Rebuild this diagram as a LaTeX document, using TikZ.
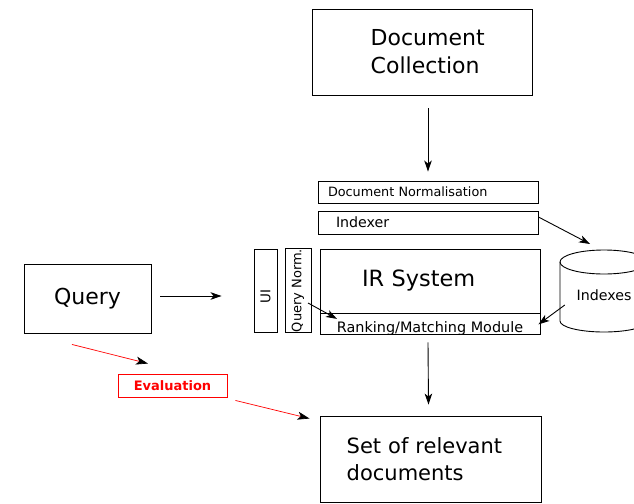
\documentclass[tikz,border=0pt]{standalone}
\usepackage{fontspec}
\setmainfont{DejaVu Sans}
\usepackage{graphicx}
\usepackage{tikz}
\usetikzlibrary{arrows.meta, positioning}

\begin{document}
\begin{tikzpicture}[x=1pt, y=1pt,
  box/.style={rectangle, draw, line width=0.9pt, align=center},
  arrow/.style={-{Stealth[length=11pt, width=7.5pt, inset=3pt]}, line width=0.9pt},
  evalarrow/.style={-{Stealth[length=12pt, width=8pt, inset=3pt, color=black]}, red, line width=0.7pt},
  large/.style={font=\fontsize{22}{28}\selectfont},
  medium/.style={font=\fontsize{14.2}{17}\selectfont},
  small/.style={font=\fontsize{12.8}{15}\selectfont}
]
  \useasboundingbox (0,0) rectangle (634,-503);

  \node[box, large, minimum width=220pt, minimum height=86pt, text width=102.6pt, inner xsep=58.7pt, align=left] (coll) at (422,-52) {Document\\Collection};
  \node[box, small, minimum width=220pt, minimum height=22pt, text width=200pt, inner xsep=10pt, inner ysep=1pt, align=left] (norm) at (428,-192) {Document Normalisation};
  \node[box, medium, minimum width=220pt, minimum height=23pt, text width=184pt, inner xsep=18pt, inner ysep=1pt, align=left] (idx) at (428,-222.5) {Indexer};

  \node[box, font=\fontsize{22.4}{28}\selectfont, minimum width=220pt, minimum height=64pt, text width=136pt, inner xsep=42pt, align=left] (ir) at (430,-281) {IR System};
  \node[box, font=\fontsize{14.4}{17}\selectfont, below=0pt of ir, minimum width=220pt, minimum height=21pt, text height=16pt, text depth=0pt, inner ysep=2.5pt] (rank) {Ranking/Matching Module};

  \node[box, font=\fontsize{13.5}{16}\selectfont, minimum width=23pt, minimum height=83pt, inner sep=0pt] (ui) at (265.5,-290.5) {\rotatebox{90}{UI\hspace{12pt}}};
  \node[box, font=\fontsize{13}{16}\selectfont, minimum width=26pt, minimum height=83pt, inner sep=0pt] (qnorm) at (298,-290.5) {\rotatebox{90}{Query Norm.}};

  \node[box, large, minimum width=127pt, minimum height=69pt] (query) at (87.5,-298.5) {Query};
  \node[box, draw=red, text=red, font=\fontsize{13}{15}\selectfont\bfseries, minimum width=109pt, minimum height=23pt, inner ysep=1pt] (eval) at (172.5,-385.5) {Evaluation};
  \node[box, font=\fontsize{21}{27.5}\selectfont, minimum width=221pt, minimum height=86pt, text width=167.6pt, inner xsep=26.7pt, align=left] (res) at (430.5,-459) {Set of relevant\\documents};

  % indexes store
  \draw[line width=0.9pt, fill=white] (560,-262) -- (560,-321) arc[start angle=180, end angle=360, x radius=44, y radius=11] -- (648,-262);
  \draw[line width=0.9pt] (604,-262) ellipse[x radius=44, y radius=12];
  \node[medium, minimum width=88pt, minimum height=82pt] (indexes) at (604,-295) {Indexes};
  \coordinate (idxtop) at (590,-244);

  \draw[arrow] ([shift={(6,-13)}]coll.south) -- ([yshift=9pt]norm.north);
  \draw[arrow] ([yshift=5.5pt]idx.east) -- (idxtop);
  \draw[arrow] ([shift={(9,2.5)}]query.east) -- ([shift={(-32,-5.5)}]ui.west);
  \draw[arrow] ([shift={(10,-12.5)}]qnorm.center) -- ([shift={(-93,5.5)}]rank.center);
  \draw[arrow] ([shift={(5,-10)}]indexes.west) -- ([xshift=-2pt]rank.east);
  \draw[arrow] ([shift={(-2,-7)}]rank.south) -- ([shift={(-2,11)}]res.north);
  \draw[evalarrow] ([shift={(-15.5,-11)}]query.south) -- ([shift={(-24.5,10)}]eval.north);
  \draw[evalarrow] ([shift={(8,-3)}]eval.south east) -- ([shift={(-10,-3)}]res.north west);
\end{tikzpicture}
\end{document}
